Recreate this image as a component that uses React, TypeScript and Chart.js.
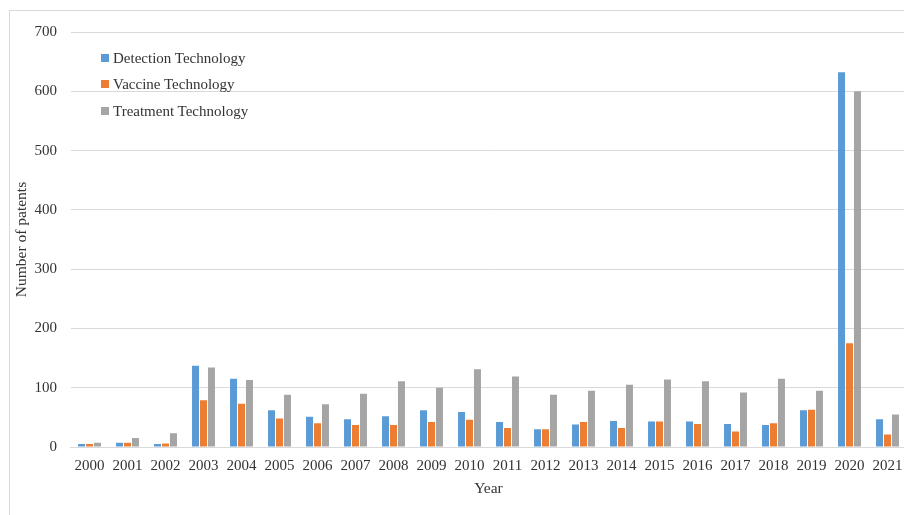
import React, { useEffect, useRef } from "react";
import { Chart, registerables } from "chart.js";

Chart.register(...registerables);

const years = [
  "2000", "2001", "2002", "2003", "2004", "2005", "2006", "2007", "2008", "2009", "2010",
  "2011", "2012", "2013", "2014", "2015", "2016", "2017", "2018", "2019", "2020", "2021",
];

const detection = [5, 7, 5, 137, 115, 62, 51, 47, 52, 62, 59, 42, 30, 38, 44, 43, 43, 39, 37, 62, 632, 47];
const vaccine = [5, 7, 6, 79, 73, 48, 40, 37, 37, 42, 46, 32, 30, 42, 32, 43, 39, 26, 40, 63, 175, 21];
const treatment = [7, 15, 23, 134, 113, 88, 72, 90, 111, 100, 131, 119, 88, 95, 105, 114, 111, 92, 115, 95, 600, 55];

const seriesNames = ["Detection Technology", "Vaccine Technology", "Treatment Technology"];
const seriesColors = ["#5B9BD5", "#ED7D31", "#A5A5A5"];

const yTicks = [0, 100, 200, 300, 400, 500, 600, 700];

const FONT = "'Liberation Serif', 'Times New Roman', serif";
const TEXT = "#333333";
const GRID = "#D9D9D9";

const CANVAS_W = 940;
const CANVAS_H = 515;

export default function App() {
  const canvasRef = useRef<HTMLCanvasElement | null>(null);

  useEffect(() => {
    const canvas = canvasRef.current;
    if (!canvas) return;
    const values = [detection, vaccine, treatment];
    const chart = new Chart(canvas, {
      type: "bar",
      data: {
        labels: years,
        datasets: seriesNames.map((name, i) => ({
          label: name,
          data: values[i],
          backgroundColor: seriesColors[i],
          borderWidth: 0,
          categoryPercentage: 0.63,
          barPercentage: 0.875,
        })),
      },
      options: {
        responsive: false,
        animation: false,
        devicePixelRatio: 1,
        layout: { padding: { left: 0, top: 32, right: CANVAS_W - 906.5, bottom: 0 } },
        plugins: {
          legend: { display: false },
          tooltip: { enabled: false },
        },
        scales: {
          x: {
            grid: { display: false, drawTicks: false },
            border: { display: true, color: GRID, width: 1 },
            ticks: {
              color: TEXT,
              font: { family: FONT, size: 15 },
              padding: 10,
              maxRotation: 0,
              autoSkip: false,
            },
            title: {
              display: true,
              text: "Year",
              color: TEXT,
              font: { family: FONT, size: 15.5 },
              padding: { top: 0, bottom: 17 },
            },
            afterFit: (scale: any) => {
              scale.height = CANVAS_H - 447;
            },
          },
          y: {
            min: 0,
            max: 700,
            afterBuildTicks: (scale: any) => {
              scale.ticks = yTicks.map((v) => ({ value: v }));
            },
            grid: { color: GRID, lineWidth: 1, drawTicks: false },
            border: { display: false },
            ticks: {
              color: TEXT,
              font: { family: FONT, size: 15 },
              padding: 13.5,
            },
            title: {
              display: true,
              text: "Number of patents",
              color: TEXT,
              font: { family: FONT, size: 15.5 },
              padding: { top: 13, bottom: 0 },
            },
            afterFit: (scale: any) => {
              scale.width = 70.5;
            },
          },
        },
      },
    });
    return () => chart.destroy();
  }, []);

  const legendCenters = [58, 84, 111];

  return (
    <div
      style={{
        position: "fixed",
        left: 0,
        top: 0,
        width: 904,
        height: 515,
        overflow: "hidden",
        background: "#ffffff",
      }}
    >
      <div
        style={{
          position: "absolute",
          left: 9,
          top: 10,
          width: 1000,
          height: 600,
          border: `1px solid ${GRID}`,
          boxSizing: "border-box",
        }}
      />
      <canvas
        ref={canvasRef}
        width={CANVAS_W}
        height={CANVAS_H}
        style={{ position: "absolute", left: 0, top: 0, width: CANVAS_W, height: CANVAS_H }}
      />
      {seriesNames.map((name, i) => (
        <div
          key={name}
          style={{
            position: "absolute",
            left: 101,
            top: legendCenters[i] - 10,
            height: 20,
            display: "flex",
            alignItems: "center",
            fontFamily: FONT,
            fontSize: 15,
            color: TEXT,
            whiteSpace: "nowrap",
          }}
        >
          <span
            style={{
              display: "inline-block",
              width: 8,
              height: 8,
              background: seriesColors[i],
              marginRight: 4,
            }}
          />
          {name}
        </div>
      ))}
    </div>
  );
}
